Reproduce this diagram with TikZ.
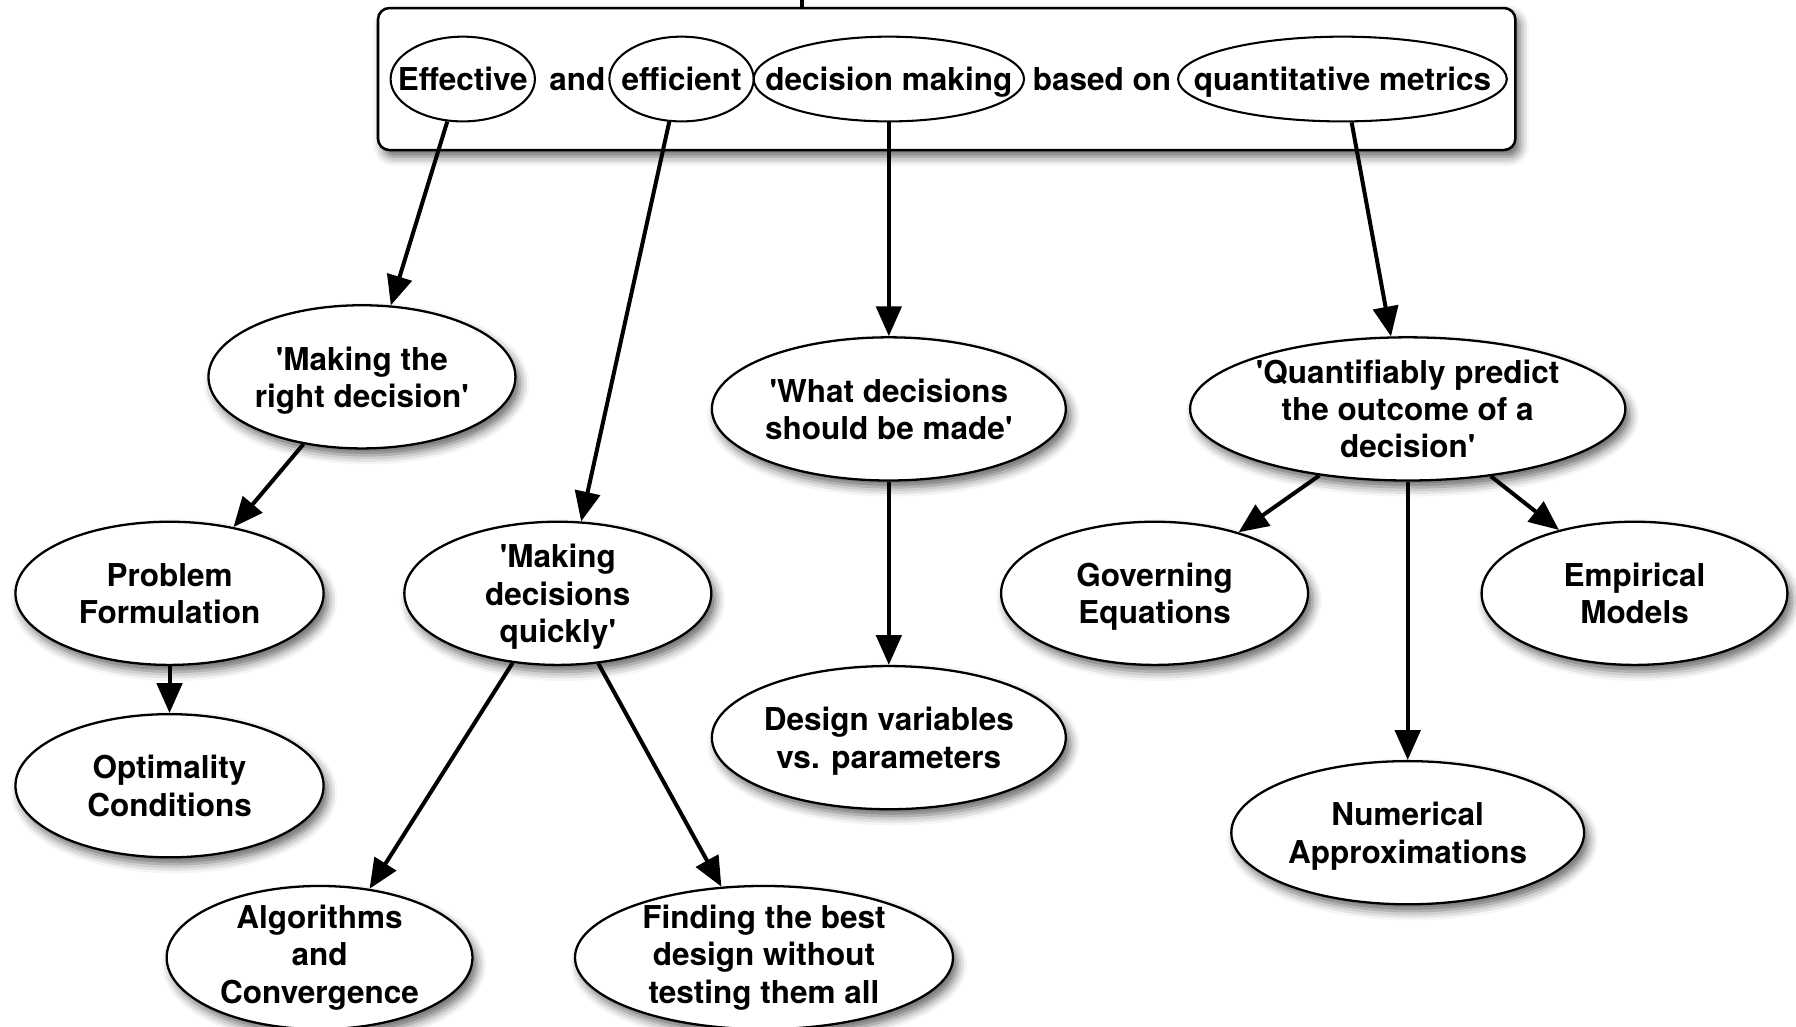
\documentclass[tikz,border=0pt]{standalone}
\usepackage{fontspec}
\setmainfont{TeX Gyre Heros}
\usetikzlibrary{arrows.meta,shapes.geometric,shadows.blur}
\newcommand\myq{\textquotesingle}
\begin{document}
\begin{tikzpicture}[x=1pt,y=-1pt,
  txt/.style={font=\fontsize{27.5}{32.5}\selectfont\bfseries, align=center, inner sep=0pt, text depth=5.8pt},
  toptxt/.style={txt, text height=20pt, yshift=-3pt},
  shad/.style={blur shadow={shadow xshift=4pt, shadow yshift=-6pt, shadow blur radius=8pt, shadow opacity=60}},
  bub/.style={ellipse, draw, line width=2pt, fill=white, inner sep=0pt, minimum height=125pt, shad},
  inbub/.style={ellipse, draw, line width=1.8pt, inner sep=0pt, minimum height=74pt},
  lab/.style={label={[txt,yshift=-3pt]center:{#1}}},
  labb/.style={label={[txt]center:{#1}}},
  ilab/.style={label={[toptxt]center:{#1}}},
  arr/.style={line width=3.5pt, -{Triangle[length=26pt,width=22pt]}},
  plain/.style={line width=3.5pt}
]
\useasboundingbox (0,0) rectangle (1568,896);
\coordinate (up) at (700,-20);
\node[draw, rounded corners=10pt, line width=2.2pt, fill=white, minimum width=993pt, minimum height=124pt, inner sep=0pt, shad] (top) at (826.5,69) {};
\draw[plain] (top.north -| up) -- (up);

\node[inbub, minimum width=126pt, ilab={Effective}] (eff) at (404,69) {};
\node[toptxt] (and) at (504,69) {and};
\node[inbub, minimum width=126pt, ilab={efficient}] (efc) at (595,69) {};
\node[inbub, minimum width=236pt, ilab={decision making}] (dm) at (776,69) {};
\node[toptxt] (bon) at (962,69) {based on};
\node[inbub, minimum width=287pt, ilab={quantitative metrics}] (qm) at (1172,69) {};

\node[bub, minimum width=268pt, lab={\myq Making the\\right decision\myq}] (rd) at (316,329) {};
\node[bub, minimum width=269pt, lab={Problem\\Formulation}] (pf) at (148,518) {};
\node[bub, minimum width=269pt, lab={Optimality\\Conditions}] (oc) at (148,686) {};
\node[bub, minimum width=268pt, lab={\myq Making\\decisions\\quickly\myq}] (mq) at (487,518) {};
\node[bub, minimum width=267pt, labb={Algorithms\\and\\Convergence}] (alg) at (279,836) {};
\node[bub, minimum width=330pt, labb={Finding the best\\design without\\testing them all}] (fb) at (667,836) {};
\node[bub, minimum width=309pt, lab={\myq What decisions\\should be made\myq}] (wd) at (776,357) {};
\node[bub, minimum width=309pt, lab={Design variables\\vs. parameters}] (dv) at (776,644) {};
\node[bub, minimum width=380pt, lab={\myq Quantifiably predict\\the outcome of a\\decision\myq}] (qp) at (1229,357) {};
\node[bub, minimum width=268pt, lab={Governing\\Equations}] (ge) at (1008,518) {};
\node[bub, minimum width=267pt, lab={Empirical\\Models}] (em) at (1427,518) {};
\node[bub, minimum width=308pt, lab={Numerical\\Approximations}] (na) at (1229,727) {};

\draw[arr] (eff.-110) -- (rd.68);
\draw[arr] (efc.-106) -- (mq.72);
\draw[arr] (dm.-90) -- (wd.90);
\draw[arr] (qm.-78) -- (qp.103);
\draw[arr] (rd.-131) -- (pf.46);
\draw[arr] (pf.-90) -- (oc.90);
\draw[arr] (mq.-123) -- (alg.54);
\draw[arr] (mq.-60) -- (fb.121);
\draw[arr] (wd.-90) -- (dv.90);
\draw[arr] (qp.-143) -- (ge.36);
\draw[arr] (qp.-90) -- (na.90);
\draw[arr] (qp.-39) -- (em.140);
\end{tikzpicture}
\end{document}
